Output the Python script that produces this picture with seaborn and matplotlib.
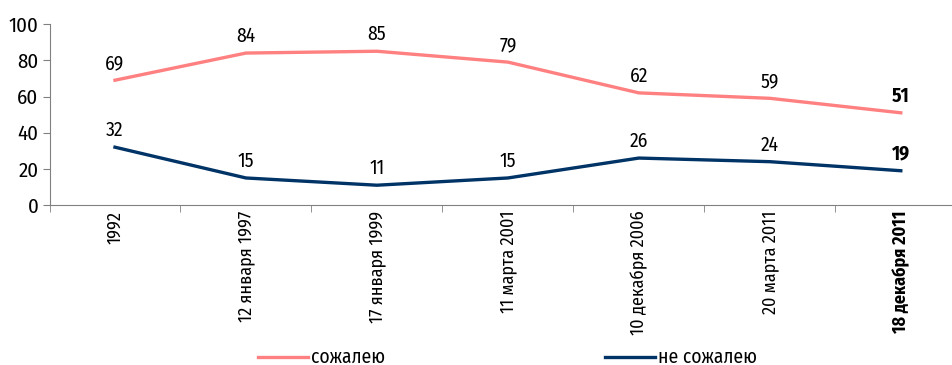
import pandas as pd
import matplotlib.pyplot as plt
import seaborn as sns

dates = ["1992", "12 января 1997", "17 января 1999", "11 марта 2001",
         "10 декабря 2006", "20 марта 2011", "18 декабря 2011"]
regret = [69, 84, 85, 79, 62, 59, 51]
no_regret = [32, 15, 11, 15, 26, 24, 19]

plt.rcParams["font.family"] = ["Fira Sans Condensed", "PT Sans Narrow", "DejaVu Sans"]

df = pd.DataFrame({
    "x": list(range(len(dates))) * 2,
    "value": regret + no_regret,
    "series": ["сожалею"] * len(dates) + ["не сожалею"] * len(dates),
})

pink, navy = "#FF8080", "#003366"

fig = plt.figure(figsize=(9.52, 3.65), dpi=100)
ax = fig.add_axes([0.052, 0.438, 0.963, 0.496])
sns.lineplot(data=df, x="x", y="value", hue="series",
             palette={"сожалею": pink, "не сожалею": navy},
             linewidth=2.4, ax=ax, legend=False)

n = len(dates)
for i in range(n):
    bold = "bold" if i == n - 1 else "normal"
    for v in (regret[i], no_regret[i]):
        ax.annotate(str(v), (i, v), xytext=(0, 5), textcoords="offset points",
                    ha="center", va="bottom", fontsize=14, weight=bold)

ax.set_xlim(-0.5, n - 0.5)
ax.set_ylim(0, 100)
ax.set_yticks(range(0, 101, 20))
ax.set_xticks(range(n))
ax.set_xticklabels(dates, rotation=90, fontsize=13)
ax.get_xticklabels()[-1].set_weight("bold")
ax.set_xticks([i + 0.5 for i in range(-1, n)], minor=True)
ax.tick_params(axis="x", which="major", length=0, pad=4)
ax.tick_params(axis="x", which="minor", length=5, color="#808080")
ax.tick_params(axis="y", length=5, color="#808080", labelsize=15, pad=3)
ax.set_xlabel("")
ax.set_ylabel("")
for s in ["top", "right"]:
    ax.spines[s].set_visible(False)
for s in ["left", "bottom"]:
    ax.spines[s].set_color("#808080")

# legend at bottom
fig.lines.append(plt.Line2D([0.271, 0.3235], [0.022, 0.022], color=pink, lw=2.4, transform=fig.transFigure))
fig.text(0.327, 0.022, "сожалею", va="center", fontsize=14)
fig.lines.append(plt.Line2D([0.6355, 0.688], [0.022, 0.022], color=navy, lw=2.4, transform=fig.transFigure))
fig.text(0.691, 0.022, "не сожалею", va="center", fontsize=14)

fig.savefig("out.png", dpi=100)
